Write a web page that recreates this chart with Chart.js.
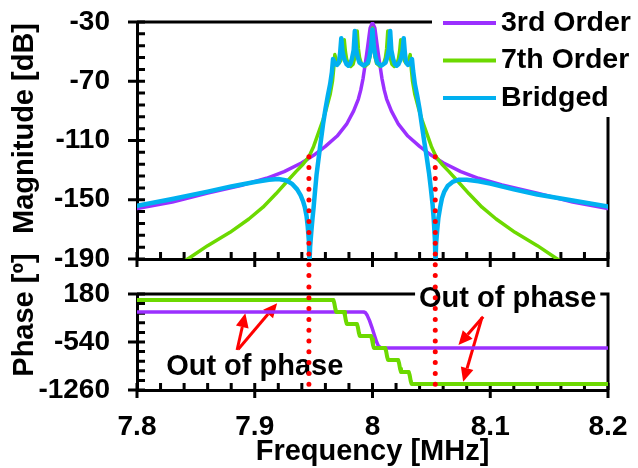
<!DOCTYPE html>
<html>
<head>
<meta charset="utf-8">
<script src="https://cdn.jsdelivr.net/npm/chart.js@4.4.1/dist/chart.umd.min.js"></script>
<style>
  html, body { margin: 0; padding: 0; background: #fff; }
  #wrap { position: relative; width: 638px; height: 468px; overflow: hidden; }
  .box { position: absolute; left: 0; width: 638px; }
  #magBox { top: 0; height: 290px; }
  #phBox { top: 240px; height: 228px; }
</style>
</head>
<body>
<div id="wrap">
  <div class="box" id="magBox"><canvas id="mag"></canvas></div>
  <div class="box" id="phBox"><canvas id="ph"></canvas></div>
</div>
<script>
// ---- data: [frequency MHz, value] ----
const seriesNames = ['3rd Order', '7th Order', 'Bridged'];

const mag3rd = [
  [7.800,-156],[7.830,-151.5],[7.860,-145.5],[7.890,-140],[7.910,-135.5],[7.925,-131],
  [7.940,-125],[7.950,-120],[7.960,-114],[7.970,-107],[7.978,-99],[7.984,-90],[7.988,-82],
  [7.990,-76],[7.992,-68],[7.9935,-60],[7.995,-52],[7.996,-46],[7.997,-40],[7.998,-34],
  [8.000,-30.5],
  [8.002,-34],[8.003,-40],[8.004,-46],[8.005,-52],[8.0065,-60],[8.008,-68],[8.010,-76],
  [8.012,-82],[8.016,-90],[8.022,-99],[8.030,-107],[8.040,-114],[8.050,-120],[8.060,-125],
  [8.075,-131],[8.090,-135.5],[8.110,-140],[8.140,-145.5],[8.170,-151.5],[8.200,-156]
];

const mag7th = [
  [7.835,-194],[7.845,-189],[7.860,-181],[7.879,-172],[7.895,-163],[7.907,-155],[7.918,-146],
  [7.927,-138],[7.935,-131],[7.941,-126],[7.946,-121],[7.950,-114],[7.954,-105],[7.958,-96],
  [7.961,-88],[7.964,-79],[7.966,-70],[7.967,-62],[7.968,-52],
  [7.969,-55],[7.970,-57],[7.9715,-58],[7.973,-56],[7.9745,-50],[7.976,-42],
  [7.977,-50],[7.978,-55],[7.9795,-58.5],[7.9815,-60],[7.9835,-58.5],[7.985,-54],[7.986,-47],[7.987,-36],
  [7.988,-48],[7.989,-54],[7.9905,-58],[7.9935,-60],[7.9965,-58],[7.998,-53],[7.999,-45],[8.000,-34],
  [8.001,-45],[8.002,-53],[8.0035,-58],[8.0065,-60],[8.0095,-58],[8.011,-54],[8.012,-48],[8.013,-36],
  [8.014,-47],[8.015,-54],[8.0165,-58.5],[8.0185,-60],[8.0205,-58.5],[8.022,-55],[8.023,-50],[8.024,-42],
  [8.0255,-50],[8.027,-56],[8.0285,-58],[8.030,-57],[8.031,-55],[8.032,-52],
  [8.033,-62],[8.034,-70],[8.036,-79],[8.039,-88],[8.042,-96],[8.046,-105],[8.050,-114],
  [8.054,-121],[8.059,-126],[8.065,-131],[8.073,-138],[8.082,-146],[8.093,-155],[8.105,-163],
  [8.121,-172],[8.140,-181],[8.155,-189],[8.165,-194]
];

const magBridged = [
  [7.800,-154],[7.830,-149.5],[7.860,-144.5],[7.880,-141],[7.900,-138],[7.912,-136.5],[7.920,-136],
  [7.927,-137],[7.932,-139.5],[7.936,-143],[7.939,-147],[7.941,-151],[7.9425,-155],[7.944,-161],
  [7.945,-168],[7.946,-178],[7.9465,-193],[7.947,-182],[7.948,-172],[7.949,-163],[7.950,-155],
  [7.951,-146],[7.9525,-133],[7.9555,-114],[7.958,-99],[7.960,-89],[7.962,-80],[7.964,-72],
  [7.9655,-64],[7.9665,-55],
  [7.9675,-57],[7.9685,-58.5],[7.970,-59],[7.9715,-57],[7.9725,-51],[7.9735,-41],
  [7.9745,-50],[7.976,-55],[7.978,-58.5],[7.9795,-59.5],[7.981,-58.5],[7.9825,-55],[7.984,-49],[7.985,-36],
  [7.986,-48],[7.9875,-54],[7.989,-57.5],[7.9925,-59.5],[7.996,-57.5],[7.9975,-53],[7.999,-46],[8.000,-35],
  [8.001,-46],[8.0025,-53],[8.004,-57.5],[8.0075,-59.5],[8.011,-57.5],[8.0125,-54],[8.014,-48],[8.015,-36],
  [8.016,-49],[8.0175,-55],[8.019,-58.5],[8.0205,-59.5],[8.022,-58.5],[8.024,-55],[8.0255,-50],[8.0265,-41],
  [8.0275,-51],[8.0285,-57],[8.030,-59],[8.0315,-58.5],[8.0325,-57],[8.0335,-55],
  [8.0345,-63],[8.036,-72],[8.038,-80],[8.040,-89],[8.042,-100],[8.044,-111],[8.046,-121],
  [8.048,-132],[8.0495,-142],[8.051,-153],[8.052,-163],[8.053,-177],[8.0535,-193],[8.054,-180],
  [8.055,-170],[8.056,-162],[8.0575,-155],[8.059,-149],[8.061,-144.5],[8.064,-140.5],[8.068,-138],
  [8.073,-136.5],[8.080,-136.5],[8.090,-137.5],[8.100,-139],[8.120,-143],[8.140,-146.5],
  [8.170,-150.5],[8.200,-154.5]
];

const phase3rd = [
  [7.800,-90],[7.9925,-90],[7.994,-100],[7.9955,-140],[7.9975,-220],[7.9995,-320],
  [8.0015,-430],[8.0035,-540],[8.005,-600],[8.007,-625],[8.009,-630],[8.200,-630]
];

const phase7th = [
  [7.800,90],[7.9668,90],[7.9676,40],[7.9684,-40],[7.9692,-90],
  [7.9758,-90],[7.9766,-140],[7.9774,-220],[7.9782,-270],
  [7.9868,-270],[7.9876,-320],[7.9884,-400],[7.9892,-450],
  [7.9988,-450],[7.9996,-500],[8.0004,-580],[8.0012,-630],
  [8.0108,-630],[8.0116,-680],[8.0124,-760],[8.0132,-810],
  [8.0218,-810],[8.0226,-860],[8.0234,-940],[8.0242,-990],
  [8.0308,-990],[8.0316,-1040],[8.0324,-1120],[8.0332,-1170],
  [8.200,-1170]
];

// red dotted markers where 3rd and 7th order cross
const crossFreqs = [7.946, 8.0533];
const crossMag = -121;

// notes on the phase plot, in data units
const phaseNotes = [
  { text: 'Out of phase', x: 7.900, y: -1035, boxed: false },
  { text: 'Out of phase', x: 8.1148, y: -10, boxed: true }
];
const phaseArrows = [
  [7.885, -660, 7.892, -110],
  [7.886, -650, 7.919, 40],
  [8.094, -160, 8.073, -585],
  [8.093, -170, 8.077, -1135]
];

const freqTicks = [7.8, 8.2, 0.1, 0.02];     // min, max, major, minor
const magTicks = [-190, -30, 40, 8];
const phaseTicks = [-1260, 180, 720, 144];

const colors = ['#9b30ff', '#6cd900', '#00b0f0'];
const FONT = "'Liberation Sans', Arial, sans-serif";
Chart.defaults.font.family = FONT;
Chart.defaults.font.weight = 'bold';
Chart.defaults.color = '#000';

const pts = arr => arr.map(p => ({ x: p[0], y: p[1] }));

function lineSet(label, data, color, width, order) {
  return {
    label, data: pts(data), borderColor: color, backgroundColor: color,
    borderWidth: width, pointRadius: 0, tension: 0, fill: false, order,
    borderJoinStyle: 'round', borderCapStyle: 'round'
  };
}

function dotSet(x, y0, y1) {
  return {
    label: '', data: [{ x, y: y0 }, { x, y: y1 }], borderColor: '#ff0000',
    borderWidth: 5, borderDash: [0, 10.8], borderCapStyle: 'round',
    pointRadius: 0, clip: false, order: 0
  };
}

function xAxis(showLabels, height) {
  return {
    type: 'linear', min: freqTicks[0], max: freqTicks[1],
    border: { display: true, color: '#000', width: 3 },
    grid: { drawOnChartArea: false, drawTicks: false },
    ticks: {
      display: showLabels, stepSize: freqTicks[2], padding: 20, maxRotation: 0,
      font: { size: 28 }, callback: v => String(Number(v.toFixed(1)))
    },
    title: {
      display: showLabels, text: 'Frequency [MHz]',
      font: { size: 29, lineHeight: 1 }, padding: { top: 0, bottom: 2 }
    },
    afterFit: s => { s.height = height; s.paddingLeft = 0; s.paddingRight = 0; }
  };
}

function yAxis(t) {
  return {
    min: t[0], max: t[1],
    border: { display: true, color: '#000', width: 3 },
    grid: { drawOnChartArea: false, drawTicks: false },
    ticks: { stepSize: t[2], padding: 27, font: { size: 28 }, callback: v => String(v) },
    afterFit: s => { s.width = 137; s.paddingTop = 0; s.paddingBottom = 0; }
  };
}

// frame on top/right plus major (crossing) and minor (inside) tick marks
const axisDecor = {
  id: 'axisDecor',
  beforeDatasetsDraw(chart, args, opts) {
    const ctx = chart.ctx;
    const { left, right, top, bottom } = chart.chartArea;
    ctx.save();
    ctx.strokeStyle = '#000';
    ctx.lineWidth = 3;
    ctx.beginPath();
    ctx.moveTo(left, top); ctx.lineTo(right, top); ctx.lineTo(right, bottom);
    ctx.stroke();

    const each = (scale, major, minor, fn) => {
      const n = Math.round((scale.max - scale.min) / minor);
      for (let i = 0; i <= n; i++) {
        const v = scale.min + i * minor;
        const k = (v - scale.min) / major;
        fn(scale.getPixelForValue(v), Math.abs(k - Math.round(k)) < 1e-6);
      }
    };
    ctx.beginPath();
    each(chart.scales.x, opts.x[2], opts.x[3], (px, isMajor) => {
      ctx.moveTo(px, bottom - 7);
      ctx.lineTo(px, isMajor ? bottom + 8 : bottom);
    });
    each(chart.scales.y, opts.y[2], opts.y[3], (py, isMajor) => {
      ctx.moveTo(isMajor ? left - 9 : left, py);
      ctx.lineTo(left + 8, py);
    });
    ctx.stroke();

    if (opts.title) {
      ctx.fillStyle = '#000';
      ctx.font = 'bold 29px ' + FONT;
      ctx.translate(25, top + opts.title.dy);
      ctx.rotate(-Math.PI / 2);
      ctx.textAlign = opts.title.align;
      ctx.textBaseline = 'middle';
      ctx.fillText(opts.title.text, 0, 0);
    }
    ctx.restore();
  }
};

// legend box in the top right corner, covering the frame
const cornerLegend = {
  id: 'cornerLegend',
  afterDraw(chart) {
    const ctx = chart.ctx;
    const { right, top } = chart.chartArea;
    ctx.save();
    ctx.fillStyle = '#fff';
    ctx.fillRect(right - 176, 0, 206, top + 95);
    ctx.font = 'bold 28.5px ' + FONT;
    ctx.textBaseline = 'middle';
    chart.data.datasets.forEach(ds => {
      const i = seriesNames.indexOf(ds.label);
      if (i < 0) return;
      const y = top + 1 + i * 37.5;
      ctx.strokeStyle = ds.borderColor;
      ctx.lineWidth = 4;
      ctx.beginPath();
      ctx.moveTo(right - 165, y); ctx.lineTo(right - 112, y);
      ctx.stroke();
      ctx.fillStyle = '#000';
      ctx.fillText(ds.label, right - 107, y);
    });
    ctx.restore();
  }
};

function drawArrow(ctx, x0, y0, x1, y1) {
  const a = Math.atan2(y1 - y0, x1 - x0);
  const hl = 14, hw = 6.5;
  const bx = x1 - hl * Math.cos(a), by = y1 - hl * Math.sin(a);
  ctx.beginPath(); ctx.moveTo(x0, y0); ctx.lineTo(bx, by); ctx.stroke();
  ctx.beginPath();
  ctx.moveTo(x1, y1);
  ctx.lineTo(bx + hw * Math.sin(a), by - hw * Math.cos(a));
  ctx.lineTo(bx - hw * Math.sin(a), by + hw * Math.cos(a));
  ctx.closePath(); ctx.fill();
}

const phaseNotesPlugin = {
  id: 'phaseNotes',
  beforeDatasetsDraw(chart) {
    const ctx = chart.ctx;
    const xs = chart.scales.x, ys = chart.scales.y;
    ctx.save();
    ctx.font = 'bold 29px ' + FONT;
    ctx.textAlign = 'center';
    ctx.textBaseline = 'alphabetic';
    phaseNotes.forEach(n => {
      const px = xs.getPixelForValue(n.x), py = ys.getPixelForValue(n.y);
      if (n.boxed) {
        const w = ctx.measureText(n.text).width;
        ctx.fillStyle = '#fff';
        ctx.fillRect(px - w / 2 - 4, py - 24, w + 8, 20);
      }
      ctx.fillStyle = '#000';
      ctx.fillText(n.text, px, py);
    });
    ctx.strokeStyle = '#ff0000';
    ctx.fillStyle = '#ff0000';
    ctx.lineWidth = 3;
    phaseArrows.forEach(a => drawArrow(ctx,
      xs.getPixelForValue(a[0]), ys.getPixelForValue(a[1]),
      xs.getPixelForValue(a[2]), ys.getPixelForValue(a[3])));
    ctx.restore();
  }
};

new Chart(document.getElementById('mag'), {
  type: 'line',
  data: {
    datasets: [
      lineSet(seriesNames[0], mag3rd, colors[0], 3.5, 3),
      lineSet(seriesNames[1], mag7th, colors[1], 3.5, 2),
      lineSet(seriesNames[2], magBridged, colors[2], 4.5, 1),
      ...crossFreqs.map(f => dotSet(f, crossMag, -206))
    ]
  },
  options: {
    responsive: true, maintainAspectRatio: false, animation: false, devicePixelRatio: 1,
    layout: { padding: { top: 22, right: 30, left: 0, bottom: 0 } },
    scales: { x: xAxis(false, 31), y: yAxis(magTicks) },
    plugins: {
      legend: { display: false }, tooltip: { enabled: false },
      axisDecor: { x: freqTicks, y: magTicks, title: { text: 'Magnitude [dB]', dy: 1, align: 'right' } }
    }
  },
  plugins: [axisDecor, cornerLegend]
});

new Chart(document.getElementById('ph'), {
  type: 'line',
  data: {
    datasets: [
      lineSet(seriesNames[0], phase3rd, colors[0], 3.5, 3),
      lineSet(seriesNames[1], phase7th, colors[1], 4, 2),
      ...crossFreqs.map(f => dotSet(f, 285, phaseTicks[0]))
    ]
  },
  options: {
    responsive: true, maintainAspectRatio: false, animation: false, devicePixelRatio: 1,
    layout: { padding: { top: 54, right: 30, left: 0, bottom: 0 } },
    scales: { x: xAxis(true, 78), y: yAxis(phaseTicks) },
    plugins: {
      legend: { display: false }, tooltip: { enabled: false },
      axisDecor: { x: freqTicks, y: phaseTicks, title: { text: 'Phase [º]', dy: 21, align: 'center' } }
    }
  },
  plugins: [axisDecor, phaseNotesPlugin]
});
</script>
</body>
</html>
